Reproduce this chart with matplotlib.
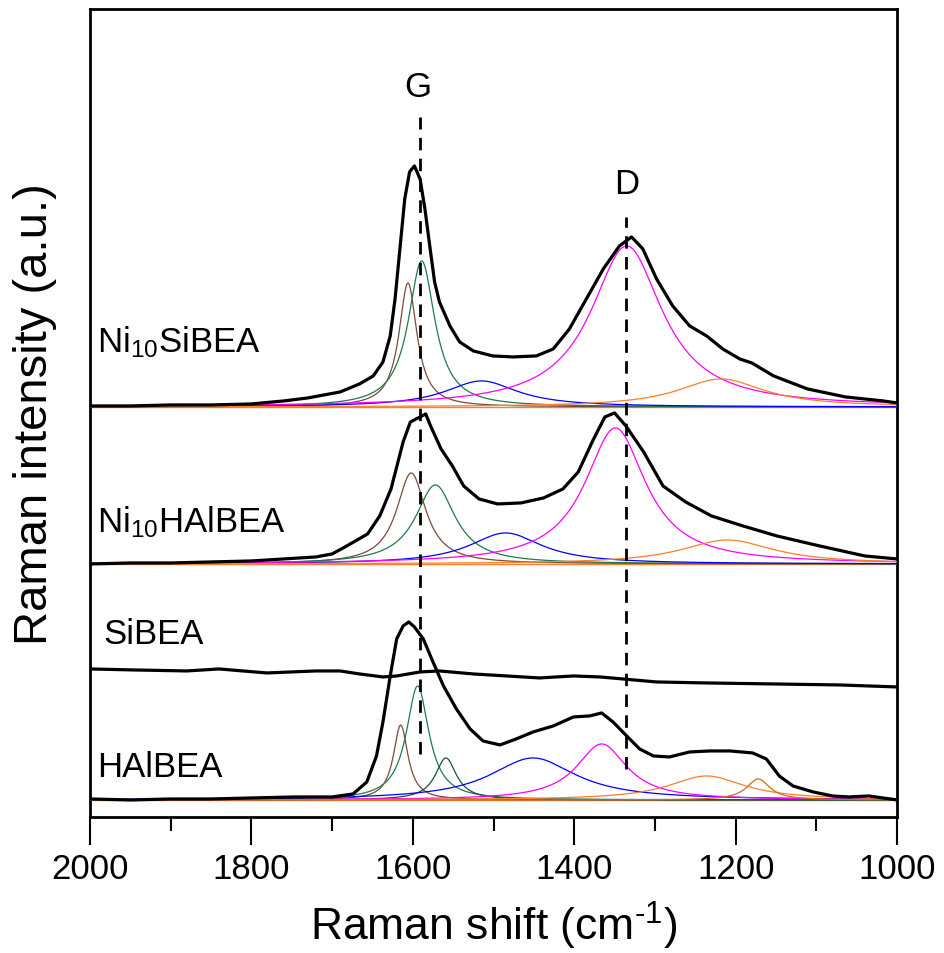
import numpy as np
import matplotlib
matplotlib.use('Agg')
import matplotlib.pyplot as plt

plt.rcParams['font.family'] = ['Liberation Sans', 'DejaVu Sans']
plt.rcParams['mathtext.fontset'] = 'custom'
plt.rcParams['mathtext.rm'] = 'Liberation Sans'
plt.rcParams['mathtext.it'] = 'Liberation Sans'
plt.rcParams['mathtext.bf'] = 'Liberation Sans'

# ---- measured spectra (Raman shift cm-1, intensity above own baseline) ----
ni_si_x = [2000, 1950, 1900, 1850, 1800, 1760, 1730, 1690, 1666, 1649, 1637, 1628,
           1622, 1616, 1610, 1604, 1598, 1591, 1585, 1579, 1573, 1567, 1554, 1542,
           1525, 1501, 1476, 1447, 1426, 1406, 1385, 1364, 1344, 1329, 1315, 1298,
           1278, 1257, 1236, 1216, 1195, 1180, 1153, 1111, 1064, 1017, 1000]
ni_si_y = [1, 1, 2, 2, 3, 6, 9, 15, 23, 31, 45, 71,
           108, 158, 208, 235, 241, 228, 198, 161, 125, 105, 81, 65,
           56, 51, 50, 51, 58, 78, 108, 138, 161, 170, 158, 128,
           101, 81, 71, 58, 48, 44, 31, 18, 10, 6, 4]

ni_hal_x = [2000, 1950, 1900, 1850, 1800, 1760, 1720, 1700, 1684, 1656, 1641, 1627,
            1612, 1603, 1591, 1584, 1578, 1565, 1551, 1537, 1518, 1495, 1466, 1438,
            1414, 1395, 1376, 1362, 1350, 1336, 1314, 1290, 1262, 1230, 1191, 1149,
            1096, 1040, 1000]
ni_hal_y = [0, 1, 1, 2, 3, 5, 7, 10, 17, 30, 48, 75,
            122, 142, 147, 150, 138, 115, 98, 78, 65, 60, 61, 66,
            75, 92, 125, 147, 151, 138, 112, 78, 62, 48, 38, 28,
            18, 8, 5]

si_x = [2000, 1946, 1880, 1840, 1781, 1720, 1690, 1666, 1637, 1620, 1591, 1567,
        1525, 1484, 1443, 1401, 1368, 1340, 1298, 1236, 1153, 1071, 1000]
si_y = [18, 17, 16, 18, 14, 16, 16, 13, 10, 11, 15, 16,
        13, 11, 9, 11, 10, 8, 5, 4, 3, 2, 0]

hal_x = [2000, 1950, 1900, 1850, 1800, 1747, 1700, 1674, 1657, 1645, 1637, 1628,
         1620, 1612, 1605, 1598, 1587, 1575, 1562, 1546, 1529, 1513, 1492, 1472,
         1451, 1426, 1401, 1381, 1366, 1352, 1335, 1319, 1302, 1282, 1257, 1232,
         1207, 1179, 1162, 1146, 1129, 1104, 1080, 1060, 1035, 1000]
hal_y = [1, 0, 1, 1, 2, 3, 3, 6, 18, 44, 78, 124,
         161, 174, 178, 173, 161, 138, 114, 91, 71, 59, 55, 61,
         68, 74, 83, 84, 87, 78, 64, 51, 44, 43, 48, 49,
         49, 47, 41, 24, 14, 8, 4, 3, 4, 0]

# vertical offsets of the stacked spectra
offsets = {'Ni10SiBEA': 410, 'Ni10HAlBEA': 253, 'SiBEA': 130, 'HAlBEA': 17}

# ---- fitted components: centre, height, FWHM ----
ni_si_c = [1606, 1589, 1515, 1335, 1218]
ni_si_h = [124, 146, 26, 161, 28]
ni_si_w = [27, 40, 110, 108, 130]

ni_hal_c = [1602, 1572, 1485, 1349, 1210]
ni_hal_h = [91, 79, 31, 136, 24]
ni_hal_w = [44, 60, 110, 92, 140]

hal_c = [1615, 1594, 1559, 1451, 1366, 1236, 1172]
hal_h = [75, 114, 42, 42, 56, 24, 21]
hal_w = [22, 34, 32, 130, 76, 116, 35]

BROWN, GREEN, DKGREEN = '#7b4b3a', '#1f7a4f', '#1d5040'
BLUE, MAGENTA, ORANGE, DKORANGE = '#0000ff', '#ff00ff', '#ff7f27', '#d2691e'
cols5 = [BROWN, GREEN, BLUE, MAGENTA, ORANGE]
cols7 = [BROWN, GREEN, DKGREEN, BLUE, MAGENTA, ORANGE, DKORANGE]

grid = np.linspace(1000, 2000, 1001)


def lorentz(x, c, h, w):
    return h / (1 + ((x - c) / (w / 2)) ** 2)


def draw_fit(ax, base, centres, heights, widths, colors):
    ax.plot(grid, np.full_like(grid, base), color=ORANGE, lw=1.0, zorder=2)
    for c, h, w, col in zip(centres, heights, widths, colors):
        ax.plot(grid, base + lorentz(grid, c, h, w), color=col, lw=0.9, zorder=3)


fig = plt.figure(figsize=(9.44, 9.54), dpi=100)
ax = fig.add_axes([0.0953, 0.1426, 0.855, 0.847])

draw_fit(ax, offsets['Ni10SiBEA'], ni_si_c, ni_si_h, ni_si_w, cols5)
draw_fit(ax, offsets['Ni10HAlBEA'], ni_hal_c, ni_hal_h, ni_hal_w, cols5)
draw_fit(ax, offsets['HAlBEA'], hal_c, hal_h, hal_w, cols7)

black = dict(color='black', lw=2.3, zorder=5, solid_joinstyle='round')
ax.plot(ni_si_x, np.array(ni_si_y) + offsets['Ni10SiBEA'], **black)
ax.plot(ni_hal_x, np.array(ni_hal_y) + offsets['Ni10HAlBEA'], **black)
ax.plot(si_x, np.array(si_y) + offsets['SiBEA'], **black)
ax.plot(hal_x, np.array(hal_y) + offsets['HAlBEA'], **black)

# G and D band markers
dash = dict(color='black', lw=2, ls=(0, (4.5, 3)), zorder=6)
ax.plot([1591, 1591], [63, 700], **dash)
ax.plot([1336, 1336], [48, 600], **dash)
ax.text(1594, 730, 'G', fontsize=25, ha='center', va='center')
ax.text(1335, 633, 'D', fontsize=25, ha='center', va='center')

# sample labels
ax.text(1991, 476, r'Ni$_{10}$SiBEA', fontsize=25, ha='left', va='center')
ax.text(1991, 296, r'Ni$_{10}$HAlBEA', fontsize=25, ha='left', va='center')
ax.text(1984, 183, 'SiBEA', fontsize=25, ha='left', va='center')
ax.text(1991, 50, 'HAlBEA', fontsize=25, ha='left', va='center')

ax.set_xlim(2000, 1000)
ax.set_ylim(0, 808)
ax.set_xticks(np.arange(2000, 999, -200))
ax.set_xticks(np.arange(1900, 1000, -200), minor=True)
ax.set_yticks([])
ax.tick_params(axis='x', which='major', direction='out', length=20, width=1.5,
               labelsize=25, pad=5)
ax.tick_params(axis='x', which='minor', direction='out', length=10, width=1.5)
for s in ax.spines.values():
    s.set_linewidth(2)

ax.set_xlabel('Raman shift (cm$^{\\mathrm{\u20101}}$)', fontsize=32, labelpad=10)
ax.set_ylabel('Raman intensity (a.u.)', fontsize=34, labelpad=24)

fig.savefig('out.png', dpi=100)
